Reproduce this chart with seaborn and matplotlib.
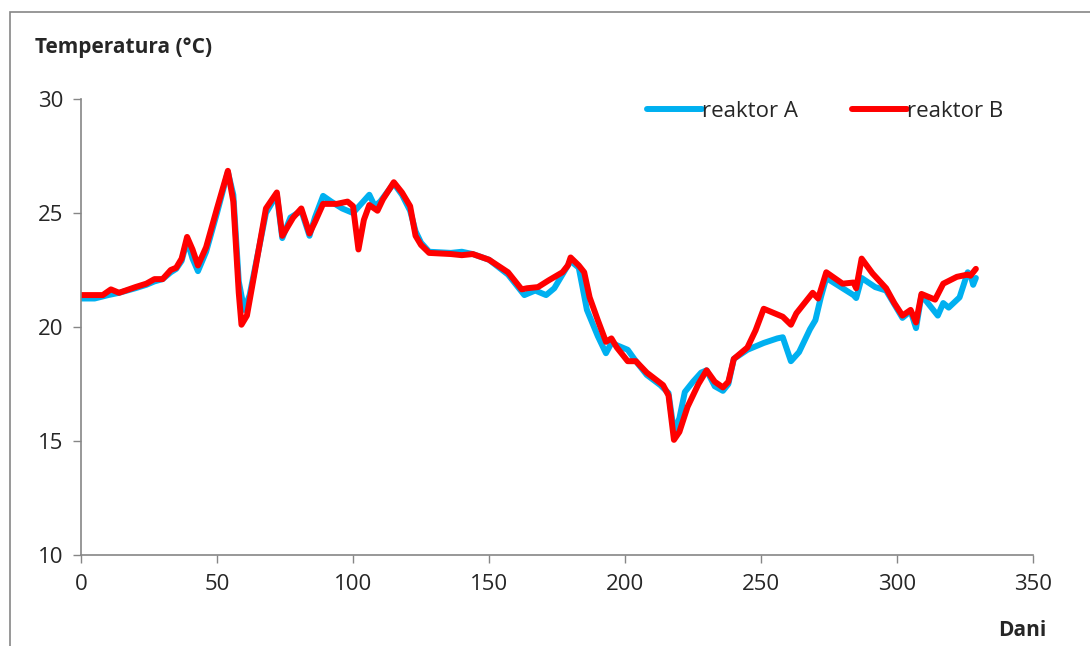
import matplotlib
matplotlib.use("Agg")
import matplotlib.pyplot as plt
import numpy as np
import pandas as pd
import seaborn as sns
from matplotlib.patches import Rectangle

# reaktor A (blue)
days_a = [0, 5, 10, 14, 20, 24, 27, 30, 33, 35, 37, 39, 41, 43, 46, 50, 54, 56, 58, 60,
          62, 65, 68, 72, 74, 77, 81, 84, 86, 89, 92, 96, 100, 103, 106, 108, 110, 115, 118, 121,
          123, 125, 128, 136, 140, 144, 150, 157, 163, 167, 171, 174, 177, 180, 183, 186, 190, 193, 195, 197,
          201, 204, 208, 213, 216, 218, 220, 222, 225, 228, 230, 233, 236, 238, 240, 245, 251, 256, 258, 261,
          264, 268, 270, 272, 274, 280, 284, 285, 287, 292, 296, 299, 302, 305, 307, 309, 313, 315, 317, 319,
          323, 326, 327, 328, 329]
temp_a = [21.25, 21.25, 21.4, 21.5, 21.7, 21.85, 22.0, 22.1, 22.4, 22.55, 22.9, 23.8, 23.0, 22.45, 23.3, 25.0, 26.8, 25.8, 22.0, 20.75,
          21.4, 23.2, 25.0, 25.8, 23.9, 24.8, 25.1, 24.0, 24.8, 25.75, 25.5, 25.2, 25.0, 25.4, 25.8, 25.3, 25.5, 26.3, 25.8, 25.1,
          24.2, 23.7, 23.3, 23.25, 23.3, 23.2, 22.95, 22.3, 21.4, 21.6, 21.4, 21.7, 22.3, 22.9, 22.6, 20.75, 19.6, 18.85, 19.3, 19.2,
          19.0, 18.5, 17.9, 17.45, 17.1, 15.4, 16.0, 17.15, 17.6, 18.0, 18.1, 17.4, 17.2, 17.5, 18.6, 19.0, 19.3, 19.5, 19.55, 18.5,
          18.9, 19.9, 20.3, 21.3, 22.15, 21.7, 21.4, 21.27, 22.15, 21.75, 21.6, 21.0, 20.4, 20.7, 19.95, 21.4, 20.8, 20.5, 21.05, 20.85,
          21.3, 22.4, 22.3, 21.85, 22.15]

# reaktor B (red)
days_b = [0, 5, 8, 11, 14, 20, 24, 27, 30, 33, 35, 37, 39, 41, 43, 46, 50, 54, 56, 58,
          59, 61, 64, 68, 72, 74, 78, 81, 84, 86, 89, 94, 98, 100, 102, 104, 106, 109, 111, 115,
          118, 121, 123, 125, 128, 136, 140, 144, 150, 157, 162, 164, 168, 172, 177, 179, 180, 183, 185, 187,
          190, 193, 195, 197, 201, 204, 208, 214, 216, 218, 220, 223, 227, 230, 233, 236, 238, 240, 245, 248,
          251, 255, 258, 261, 263, 265, 269, 271, 274, 280, 284, 285, 287, 291, 296, 299, 302, 305, 307, 309,
          314, 317, 322, 326, 327, 329]
temp_b = [21.4, 21.4, 21.4, 21.65, 21.5, 21.75, 21.9, 22.1, 22.1, 22.5, 22.6, 23.0, 23.95, 23.4, 22.7, 23.5, 25.2, 26.85, 25.5, 21.5,
          20.1, 20.5, 22.5, 25.2, 25.9, 24.0, 24.8, 25.2, 24.1, 24.6, 25.4, 25.4, 25.5, 25.3, 23.4, 24.7, 25.35, 25.1, 25.6, 26.35,
          25.9, 25.3, 24.0, 23.6, 23.25, 23.2, 23.15, 23.2, 22.95, 22.4, 21.65, 21.7, 21.75, 22.05, 22.4, 22.7, 23.05, 22.7, 22.4, 21.3,
          20.3, 19.35, 19.5, 19.1, 18.5, 18.5, 18.0, 17.45, 17.0, 15.05, 15.4, 16.5, 17.5, 18.1, 17.6, 17.35, 17.6, 18.6, 19.1, 19.85,
          20.8, 20.6, 20.45, 20.1, 20.6, 20.9, 21.5, 21.25, 22.4, 21.9, 21.95, 21.7, 23.0, 22.35, 21.7, 21.05, 20.5, 20.75, 20.2, 21.45,
          21.2, 21.9, 22.2, 22.3, 22.25, 22.55]

x_ticks = [0, 50, 100, 150, 200, 250, 300, 350]
y_ticks = [10, 15, 20, 25, 30]

df = pd.concat([
    pd.DataFrame({"Dani": days_a, "Temp": temp_a, "serija": "reaktor A"}),
    pd.DataFrame({"Dani": days_b, "Temp": temp_b, "serija": "reaktor B"}),
])

sns.set_style("white")
plt.rcParams["font.family"] = ["Open Sans", "DejaVu Sans"]

fig = plt.figure(figsize=(10.9, 6.46), dpi=100)
ax = fig.add_axes([81 / 1090, 1 - 555 / 646, (1033 - 81) / 1090, (555 - 99) / 646])

sns.lineplot(data=df, x="Dani", y="Temp", hue="serija", sort=False,
             palette={"reaktor A": "#00B0F0", "reaktor B": "#FF0000"},
             linewidth=4.3, ax=ax, solid_joinstyle="round", solid_capstyle="round")

ax.set_xlim(0, 350)
ax.set_ylim(10, 30)
ax.set_xticks(x_ticks)
ax.set_yticks(y_ticks)
ax.tick_params(axis="both", labelsize=16, direction="out", length=6, width=1,
               color="#868686", left=True, bottom=True)
ax.tick_params(axis="x", pad=8)
ax.tick_params(axis="y", pad=7)
ax.set_xlabel("")
ax.set_ylabel("")
for s in ["top", "right"]:
    ax.spines[s].set_visible(False)
for s in ["left", "bottom"]:
    ax.spines[s].set_color("#868686")
    ax.spines[s].set_linewidth(1.2)

fig.text(35 / 1090, 1 - 48 / 646, "Temperatura (°C)", fontsize=15, fontweight="bold",
         ha="left", va="center")
fig.text(1046 / 1090, 1 - 630 / 646, "Dani", fontsize=15, fontweight="bold",
         ha="right", va="center")

leg = ax.legend(loc="upper right", bbox_to_anchor=(0.99, 1.04), ncol=2, frameon=False,
                fontsize=16, handlelength=2.5, handletextpad=0.0, columnspacing=2.4)
for line in leg.get_lines():
    line.set_linewidth(4.3)

fig.add_artist(Rectangle((10 / 1090, -0.1), 1.2, 1 - 12 / 646 + 0.1, transform=fig.transFigure,
                         fill=False, edgecolor="#868686", linewidth=1.2))

fig.savefig("out.png", dpi=100)
